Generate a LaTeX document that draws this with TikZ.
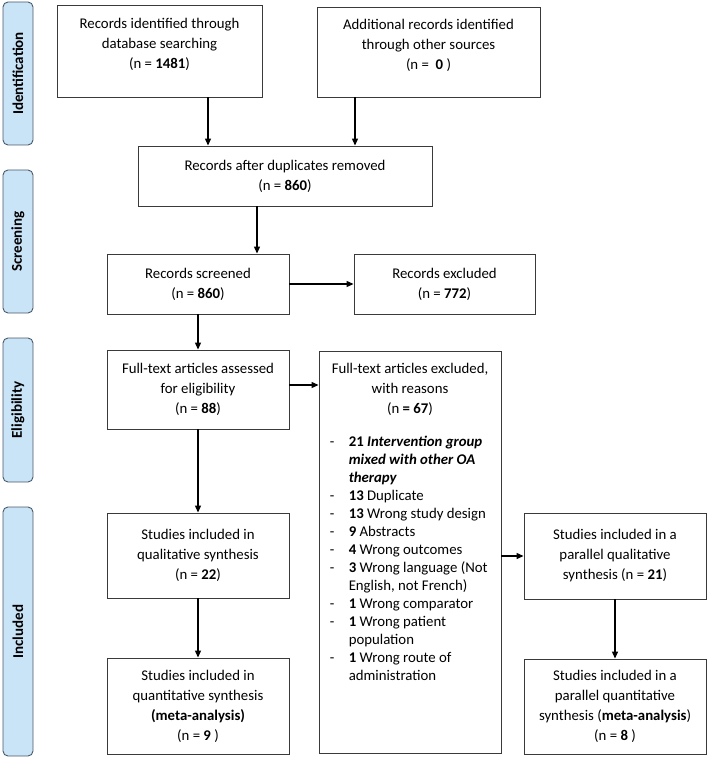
\documentclass[tikz,border=0pt]{standalone}
\usepackage{fontspec}
\setmainfont{Carlito}
\usetikzlibrary{arrows.meta,calc}
\definecolor{sidefill}{HTML}{C9E3F7}
\definecolor{sidedraw}{HTML}{4A5A68}
\definecolor{boxdraw}{HTML}{3A3A3A}
\begin{document}
\begin{tikzpicture}[x=1pt,y=-1pt,
  font=\fontsize{14.8}{20}\selectfont,
  box/.style={draw=boxdraw, line width=0.9pt, align=center, inner sep=0pt},
  side/.style={draw=sidedraw, fill=sidefill, line width=0.9pt, rounded corners=5pt,
    rotate=90, minimum height=30pt, inner sep=0pt, font=\fontsize{15}{17}\selectfont\bfseries},
  arr/.style={-{Triangle[length=7pt,width=6pt]}, line width=1.2pt}]
\useasboundingbox (0,0) rectangle (708,759);

% side labels
\node[side, minimum width=143pt] (s1) at (18,73.5) {Identification};
\node[side, minimum width=143pt] (s2) at (18,241.5) {Screening};
\node[side, minimum width=144pt] (s3) at (18,410) {Eligibility};
\node[side, minimum width=249pt] (s4) at (18,631.5) {Included};

% boxes
\node[box, minimum width=205pt, minimum height=92pt, text depth=15pt] (A) at (159.5,51)
  {Records identified through\\ database searching\\ (n = \textbf{1481})};
\node[box, minimum width=223pt, minimum height=90pt, text depth=15pt] (B) at (428.5,52)
  {Additional records identified\\ through other sources\\ (n =\ \ \textbf{0} )};
\node[box, minimum width=294pt, minimum height=60pt] (C) at (285,176)
  {Records after duplicates removed\\ (n = \textbf{860})};
\node[box, minimum width=182pt, minimum height=60pt] (D) at (198,284)
  {Records screened\\ (n = \textbf{860})};
\node[box, minimum width=181pt, minimum height=60pt] (K) at (444.5,284)
  {Records excluded\\ (n = \textbf{772})};
\node[box, minimum width=182pt, minimum height=79pt] (E) at (198,389.5)
  {Full-text articles assessed\\ for eligibility\\ (n = \textbf{88})};
\node[box, minimum width=182pt, minimum height=402pt] (H) at (410,552) {};
\node[box, minimum width=182pt, minimum height=85pt] (F) at (198,555.5)
  {Studies included in\\ qualitative synthesis\\ (n = \textbf{22})};
\node[box, minimum width=182pt, minimum height=96pt] (G) at (198,706)
  {Studies included in\\ quantitative synthesis\\ \textbf{(meta-analysis)}\\ (n = \textbf{9} )};
\node[box, minimum width=182pt, minimum height=86pt] (I) at (615,556)
  {Studies included in a\\ parallel qualitative\\ synthesis (n = \textbf{21})};
\node[box, minimum width=182pt, minimum height=95pt] (J) at (615,706.5)
  {Studies included in a\\ parallel quantitative\\ synthesis (\textbf{meta-analysis})\\ (n = \textbf{8} )};

% text of H
\node[anchor=north, align=center, inner sep=0pt] (Htitle) at ([yshift=-12pt]H.north)
  {Full-text articles excluded,\\ with reasons\\ (n \textbf{= 67})};
\node[anchor=north west, inner sep=0pt] (Hlist) at ([xshift=11pt,yshift=-83pt]H.north west)
  {\fontsize{14.8}{18}\selectfont
   \begin{tabular}{@{}p{19pt}@{}p{155pt}@{}}
   - & \textbf{21 \textit{Intervention group}}\newline\textbf{\textit{mixed with other OA}}\newline\textbf{\textit{therapy}}\\
   - & \textbf{13} Duplicate\\
   - & \textbf{13} Wrong study design\\
   - & \textbf{9} Abstracts\\
   - & \textbf{4} Wrong outcomes\\
   - & \textbf{3} Wrong language (Not\newline English, not French)\\
   - & \textbf{1} Wrong comparator\\
   - & \textbf{1} Wrong patient\newline population\\
   - & \textbf{1} Wrong route of\newline administration
   \end{tabular}};

% connectors
\draw[arr] ([xshift=48.5pt]A.south) -- ([xshift=48.5pt]A.south |- C.north);
\draw[arr] ([xshift=-73.5pt]B.south) -- ([xshift=-73.5pt]B.south |- C.north);
\draw[arr] ([xshift=-28pt]C.south) -- ([xshift=-28pt]C.south |- D.north);
\draw[arr] (D.east) -- (K.west);
\draw[arr] (D.south) -- (D.south |- E.north);
\draw[arr] ([yshift=4.5pt]E.east) -- ([yshift=4.5pt]E.east -| H.west);
\draw[arr] (E.south) -- (E.south |- F.north);
\draw[arr] (F.south) -- (F.south |- G.north);
\draw[arr] (H.east |- I.west) -- (I.west);
\draw[arr] (I.south) -- (I.south |- J.north);
\end{tikzpicture}
\end{document}
